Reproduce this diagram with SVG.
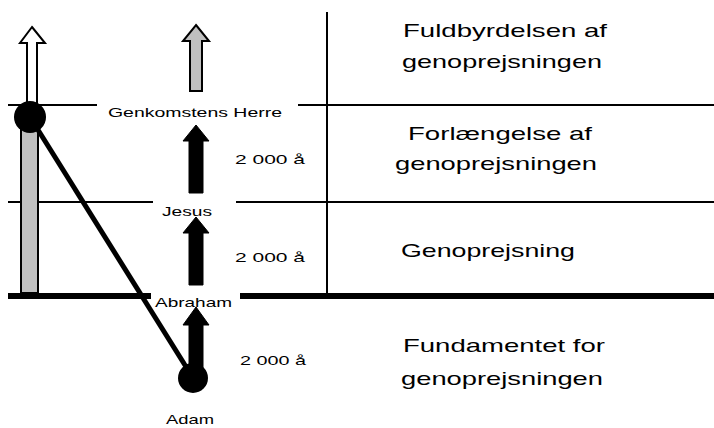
<svg xmlns="http://www.w3.org/2000/svg" width="714" height="428" viewBox="0 0 714 428">
<style>
.ln{stroke:#000;stroke-width:2;fill:none}
.thick{stroke:#000;stroke-width:6;fill:none}
.diag{stroke:#000;stroke-width:5;fill:none}
.big{font-family:"Liberation Sans",Arial,sans-serif;font-size:19px;fill:#000}
.sm{font-family:"Liberation Sans",Arial,sans-serif;font-size:13px;fill:#000}
.blk{fill:#000;stroke:#000;stroke-width:1}
.gry{fill:#c0c0c0;stroke:#000;stroke-width:2}
.wht{fill:#fff;stroke:#000;stroke-width:2}
</style>
<rect width="714" height="428" fill="#fff"/>
<g id="grid">
<line class="ln" x1="8" y1="105" x2="97" y2="105"/>
<line class="ln" x1="298" y1="105" x2="714" y2="105"/>
<line class="ln" x1="8" y1="202" x2="153" y2="202"/>
<line class="ln" x1="236" y1="202" x2="714" y2="202"/>
<line class="thick" x1="8" y1="296" x2="151" y2="296"/>
<line class="thick" x1="240" y1="296" x2="714" y2="296"/>
<line class="ln" x1="327" y1="12" x2="327" y2="293"/>
</g>
<g id="left-bar">
<rect class="gry" x="21" y="117" width="17" height="176"/>
<polygon class="wht" points="32,27 45,43 37,43 37,105 27,105 27,43 20,43"/>
</g>
<g id="connectors">
<line class="diag" x1="30" y1="117" x2="193" y2="378"/>
<polygon class="gry" points="196,25 209,41 202,41 202,91 190,91 190,41 183,41"/>
<polygon class="blk" points="196,125 209,141 203,141 203,193 189,193 189,141 183,141"/>
<polygon class="blk" points="196,217 209,233 203,233 203,285 189,285 189,233 183,233"/>
<polygon class="blk" points="196,307 209,325 203,325 203,370 189,370 189,325 183,325"/>
</g>
<g id="node-genkomst">
<circle cx="30" cy="117" r="16" fill="#000"/>
<text class="sm" x="108" y="117" textLength="174" lengthAdjust="spacingAndGlyphs">Genkomstens Herre</text>
</g>
<g id="node-jesus">
<text class="sm" x="162" y="216" font-size="12" textLength="50" lengthAdjust="spacingAndGlyphs">Jesus</text>
</g>
<g id="node-abraham">
<text class="sm" x="155" y="307" textLength="77" lengthAdjust="spacingAndGlyphs">Abraham</text>
</g>
<g id="node-adam">
<circle cx="193" cy="378" r="15" fill="#000"/>
<text class="sm" x="166" y="424" font-size="12" textLength="48" lengthAdjust="spacingAndGlyphs">Adam</text>
</g>
<g id="years">
<text class="sm" x="235" y="164" font-size="14" textLength="70" lengthAdjust="spacingAndGlyphs">2 000 å</text>
<text class="sm" x="235" y="262" font-size="14" textLength="70" lengthAdjust="spacingAndGlyphs">2 000 å</text>
<text class="sm" x="240" y="365" font-size="14" textLength="66" lengthAdjust="spacingAndGlyphs">2 000 å</text>
</g>
<g id="labels">
<text class="big" x="403" y="37" textLength="204" lengthAdjust="spacingAndGlyphs">Fuldbyrdelsen af</text>
<text class="big" x="402" y="68" textLength="200" lengthAdjust="spacingAndGlyphs">genoprejsningen</text>
<text class="big" x="408" y="140" textLength="184" lengthAdjust="spacingAndGlyphs">Forlængelse af</text>
<text class="big" x="395" y="170" textLength="202" lengthAdjust="spacingAndGlyphs">genoprejsningen</text>
<text class="big" x="401" y="257" textLength="174" lengthAdjust="spacingAndGlyphs">Genoprejsning</text>
<text class="big" x="403" y="352" textLength="202" lengthAdjust="spacingAndGlyphs">Fundamentet for</text>
<text class="big" x="401" y="385" textLength="202" lengthAdjust="spacingAndGlyphs">genoprejsningen</text>
</g>
</svg>
